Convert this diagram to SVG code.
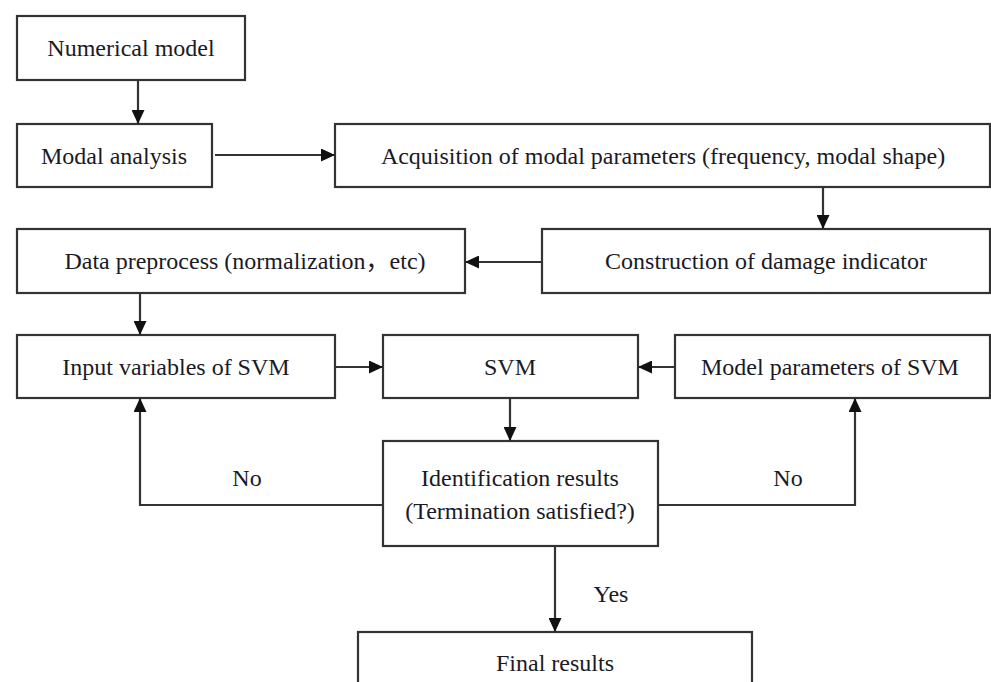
<svg xmlns="http://www.w3.org/2000/svg" width="991" height="682" viewBox="0 0 991 682">
<style>
.box{fill:#fff;stroke:#333;stroke-width:2.2}
.t{font-family:"Liberation Serif","Times New Roman","Noto Sans CJK SC",serif;font-size:24px;fill:#1a1a26;text-anchor:middle}
.c{fill:none;stroke:#333;stroke-width:2.2}
</style>
<defs>
<marker id="ah" viewBox="0 0 14 13" refX="14" refY="6.5" markerWidth="14" markerHeight="13" markerUnits="userSpaceOnUse" orient="auto">
<path d="M0,0 L14,6.5 L0,13 Z" fill="#111"/>
</marker>
</defs>
<rect width="991" height="682" fill="#fff"/>
<g id="n1"><rect class="box" x="17" y="16" width="228" height="64"/><text class="t" x="131" y="56">Numerical model</text></g>
<g id="n2"><rect class="box" x="17" y="124" width="195" height="63"/><text class="t" x="114" y="164">Modal analysis</text></g>
<g id="n3"><rect class="box" x="335" y="124" width="655" height="63"/><text class="t" x="663" y="164">Acquisition of modal parameters (frequency, modal shape)</text></g>
<g id="n4"><rect class="box" x="542" y="229" width="448" height="64"/><text class="t" x="766" y="269">Construction of damage indicator</text></g>
<g id="n5"><rect class="box" x="17" y="229" width="448" height="64"/><text class="t" x="245" y="269">Data preprocess (normalization，etc)</text></g>
<g id="n6"><rect class="box" x="17" y="335" width="318" height="63"/><text class="t" x="176" y="375">Input variables of SVM</text></g>
<g id="n7"><rect class="box" x="383" y="335" width="255" height="63"/><text class="t" x="510" y="375">SVM</text></g>
<g id="n8"><rect class="box" x="675" y="335" width="315" height="63"/><text class="t" x="830" y="375">Model parameters of SVM</text></g>
<g id="n9"><rect class="box" x="383" y="441" width="275" height="105"/><text class="t" x="520" y="486">Identification results</text><text class="t" x="520" y="519">(Termination satisfied?)</text></g>
<g id="n10"><rect class="box" x="358" y="632" width="394" height="70"/><text class="t" x="555" y="671">Final results</text></g>
<g id="connectors">
<line class="c" x1="138" y1="80" x2="138" y2="124" marker-end="url(#ah)"/>
<line class="c" x1="215" y1="155" x2="335" y2="155" marker-end="url(#ah)"/>
<line class="c" x1="823" y1="187" x2="823" y2="229" marker-end="url(#ah)"/>
<line class="c" x1="542" y1="262" x2="465" y2="262" marker-end="url(#ah)"/>
<line class="c" x1="140" y1="293" x2="140" y2="335" marker-end="url(#ah)"/>
<line class="c" x1="335" y1="367" x2="383" y2="367" marker-end="url(#ah)"/>
<line class="c" x1="675" y1="367" x2="638" y2="367" marker-end="url(#ah)"/>
<line class="c" x1="510" y1="398" x2="510" y2="441" marker-end="url(#ah)"/>
<polyline class="c" points="383,505 140,505 140,398" marker-end="url(#ah)"/>
<polyline class="c" points="658,505 855,505 855,398" marker-end="url(#ah)"/>
<line class="c" x1="555" y1="546" x2="555" y2="632" marker-end="url(#ah)"/>
<text class="t" x="247" y="486">No</text>
<text class="t" x="788" y="486">No</text>
<text class="t" x="611" y="602">Yes</text>
</g>
</svg>
